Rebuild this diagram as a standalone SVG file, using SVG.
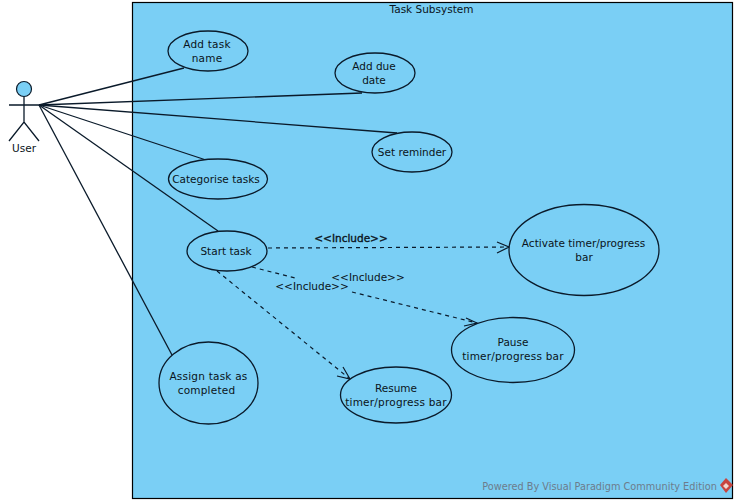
<svg xmlns="http://www.w3.org/2000/svg" width="738" height="503" viewBox="0 0 738 503">
<style>
text{font-family:"DejaVu Sans","Liberation Sans",sans-serif;font-size:10.5px;fill:#0a1420;text-anchor:middle}
.wide{letter-spacing:.22px}
.uc{fill:#7acff5;stroke:#0a1a2a;stroke-width:1.3}
.assoc{fill:none;stroke:#0a1a2a;stroke-width:1.3}
.dash{fill:none;stroke:#0a1a2a;stroke-width:1.2;stroke-dasharray:4 4}
.head{fill:none;stroke:#0a1a2a;stroke-width:1.2}
</style>
<g id="subsystem">
<rect x="132.500" y="2.500" width="600" height="496" fill="#7acff5" stroke="#000" stroke-width="1.200"/>
<text x="431.500" y="13">Task Subsystem</text>
</g>
<g id="connectors">
<path class="assoc" d="M39 105L184 68"/>
<path class="assoc" d="M39 105L362 93"/>
<path class="assoc" d="M39 105L397 133"/>
<path class="assoc" d="M39 105L206 160"/>
<path class="assoc" d="M39 105L218 231"/>
<path class="assoc" d="M39 105L172 355"/>
<path class="dash" d="M268 248L509 247"/>
<path class="head" d="M497 242L509 247L497 253"/>
<path class="dash" d="M252 267L295 278M352 292L477 323"/>
<path class="head" d="M466 318L477 323L464 326"/>
<path class="dash" d="M217 271L350 379"/>
<path class="head" d="M343 367L350 379L337 376"/>
<text x="351" y="242" stroke="#0a1420" stroke-width=".35">&lt;&lt;Include&gt;&gt;</text>
<text x="368" y="281">&lt;&lt;Include&gt;&gt;</text>
<text x="312" y="290">&lt;&lt;Include&gt;&gt;</text>
</g>
<g id="user">
<circle cx="24" cy="89" r="7.500" fill="#7acff5" stroke="#0a1a2a" stroke-width="1.200"/>
<path class="assoc" d="M24 97V122M9 105H39M9 141L24 122L39 141"/>
<text x="24" y="152">User</text>
</g>
<g id="add-task-name">
<ellipse class="uc" cx="208" cy="51" rx="40" ry="20"/>
<text x="207" y="48" class="wide">Add task</text><text x="207" y="62" class="wide">name</text>
</g>
<g id="add-due-date">
<ellipse class="uc" cx="375" cy="73" rx="40" ry="20"/>
<text x="374" y="70">Add due</text><text x="374" y="84">date</text>
</g>
<g id="set-reminder">
<ellipse class="uc" cx="412" cy="152" rx="40" ry="20"/>
<text x="412" y="156">Set reminder</text>
</g>
<g id="categorise-tasks">
<ellipse class="uc" cx="218" cy="179" rx="49.500" ry="20"/>
<text x="216" y="183">Categorise tasks</text>
</g>
<g id="start-task">
<ellipse class="uc" cx="227" cy="251" rx="40" ry="20"/>
<text x="226" y="255">Start task</text>
</g>
<g id="activate-timer">
<ellipse class="uc" cx="584" cy="250" rx="75" ry="45.500"/>
<text x="583.500" y="247">Activate timer/progress</text><text x="584" y="261">bar</text>
</g>
<g id="pause-timer">
<ellipse class="uc" cx="513" cy="350" rx="61.500" ry="32.500"/>
<text x="513" y="346">Pause</text><text x="513" y="360" class="wide">timer/progress bar</text>
</g>
<g id="resume-timer">
<ellipse class="uc" cx="396" cy="395" rx="55.500" ry="28"/>
<text x="396" y="392">Resume</text><text x="396" y="406" class="wide">timer/progress bar</text>
</g>
<g id="assign-task">
<ellipse class="uc" cx="208.500" cy="383" rx="49.500" ry="41"/>
<text x="208.500" y="380" class="wide">Assign task as</text><text x="206.500" y="394" class="wide">completed</text>
</g>
<g id="watermark">
<text x="599.500" y="490" style="fill:#6d7c8c;font-size:9.750px">Powered By Visual Paradigm Community Edition</text>
<path d="M726 478L733 485L726 493L720 485Z" fill="#c8453f"/>
<path d="M726 483L729 486L726 489L723 486Z" fill="#f0d8d0"/>
</g>
</svg>
